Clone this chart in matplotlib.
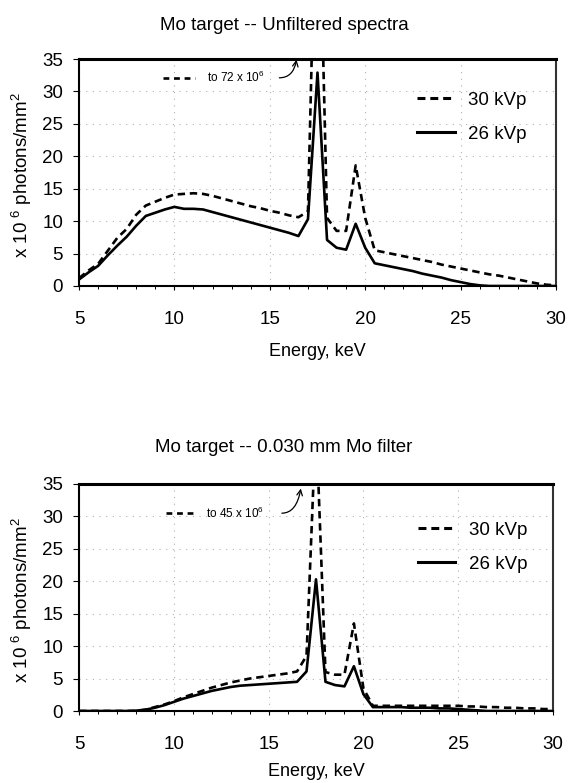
import matplotlib
matplotlib.use("Agg")
import matplotlib.pyplot as plt
from matplotlib.lines import Line2D
from matplotlib.ticker import MultipleLocator

plt.rcParams['font.family'] = ['Liberation Sans', 'DejaVu Sans']
plt.rcParams['mathtext.fontset'] = 'custom'
plt.rcParams['mathtext.rm'] = 'Liberation Sans'
plt.rcParams['mathtext.it'] = 'Liberation Sans'

energy = [5.0, 5.5, 6.0, 6.5, 7.0, 7.5, 8.0, 8.5, 9.0, 9.5,
          10.0, 10.5, 11.0, 11.5, 12.0, 12.5, 13.0, 13.5, 14.0, 14.5,
          15.0, 15.5, 16.0, 16.5, 17.0, 17.5, 18.0, 18.5, 19.0, 19.5,
          20.0, 20.5, 21.0, 21.5, 22.0, 22.5, 23.0, 23.5, 24.0, 24.5,
          25.0, 25.5, 26.0, 26.5, 27.0, 27.5, 28.0, 28.5, 29.0, 29.5, 30.0]

unf_30 = [1.2, 2.4, 3.4, 5.4, 7.4, 8.8, 11.0, 12.4, 13.0, 13.6,
          14.1, 14.2, 14.3, 14.2, 13.9, 13.5, 13.1, 12.7, 12.3, 12.0,
          11.6, 11.3, 10.9, 10.6, 11.5, 72.0, 10.5, 8.5, 8.5, 18.6,
          10.5, 5.5, 5.2, 4.9, 4.6, 4.3, 4.0, 3.7, 3.3, 3.0,
          2.7, 2.4, 2.1, 1.8, 1.6, 1.3, 1.0, 0.7, 0.4, 0.2, 0.1]

unf_26 = [1.0, 2.1, 3.1, 4.7, 6.2, 7.6, 9.3, 10.8, 11.3, 11.8,
          12.2, 11.9, 11.9, 11.8, 11.4, 11.0, 10.6, 10.2, 9.8, 9.4,
          9.0, 8.6, 8.2, 7.7, 10.3, 32.9, 7.1, 5.9, 5.6, 9.6,
          5.9, 3.5, 3.2, 2.9, 2.6, 2.3, 1.9, 1.6, 1.3, 0.9,
          0.6, 0.3, 0.1, 0.0, 0.0, 0.0, 0.0, 0.0, 0.0, 0.0, 0.0]

flt_30 = [0.0, 0.0, 0.0, 0.0, 0.0, 0.0, 0.0, 0.2, 0.6, 1.0,
          1.5, 2.1, 2.6, 3.1, 3.6, 4.0, 4.4, 4.7, 5.0, 5.2,
          5.4, 5.6, 5.8, 6.1, 8.5, 45.0, 6.0, 5.6, 5.6, 13.5,
          3.5, 0.8, 0.8, 0.8, 0.8, 0.8, 0.8, 0.8, 0.8, 0.8,
          0.8, 0.7, 0.7, 0.6, 0.6, 0.5, 0.5, 0.4, 0.4, 0.3, 0.3]

flt_26 = [0.0, 0.0, 0.0, 0.0, 0.0, 0.0, 0.05, 0.2, 0.5, 0.9,
          1.4, 1.9, 2.3, 2.7, 3.1, 3.4, 3.7, 3.9, 4.0, 4.1,
          4.2, 4.3, 4.4, 4.5, 6.1, 20.3, 4.5, 4.0, 3.8, 6.9,
          2.6, 0.6, 0.6, 0.6, 0.6, 0.5, 0.5, 0.5, 0.4, 0.4,
          0.3, 0.2, 0.1, 0.0, 0.0, 0.0, 0.0, 0.0, 0.0, 0.0, 0.0]

series_labels = ["30 kVp", "26 kVp"]
titles = ["Mo target -- Unfiltered spectra", "Mo target -- 0.030 mm Mo filter"]
peak_notes = ["72", "45"]
xlabel = "Energy, keV"
ylabel = r"x 10 $^{6}$ photons/mm$^2$"

W, H = 568, 783
fig = plt.figure(figsize=(W / 100, H / 100), dpi=100)

def fx(px):
    return px / W

def fy(py):
    return 1 - py / H

axes_px = [(79, 59, 556, 286), (79, 484, 553, 711)]
title_y = [25, 447]
xlabel_y = [352, 772]
ylabel_y = [175, 600]
legend_anchor = [(0.709, 0.855), (0.715, 0.835)]
note_cfg = [
    dict(dash=(9.4, 11.1), y=32.1, tx=11.7, arr_from=(15.5, 32.1), arr_to=(16.4, 34.9)),
    dict(dash=(9.6, 11.2), y=30.5, tx=11.7, arr_from=(15.7, 30.5), arr_to=(16.7, 34.3)),
]
data = [(unf_30, unf_26), (flt_30, flt_26)]

for i in range(2):
    l, t, r, b = axes_px[i]
    ax = fig.add_axes([fx(l), fy(b), fx(r) - fx(l), fy(t) - fy(b)])
    y30, y26 = data[i]
    ax.plot(energy, y30, color='black', lw=1.9, linestyle=(0, (2.8, 1.8)), label=series_labels[0])
    ax.plot(energy, y26, color='black', lw=1.9, linestyle='-', label=series_labels[1])
    ax.set_xlim(5, 30)
    ax.set_ylim(0, 35)
    ax.xaxis.set_major_locator(MultipleLocator(5))
    ax.xaxis.set_minor_locator(MultipleLocator(1))
    ax.yaxis.set_major_locator(MultipleLocator(5))
    ax.grid(True, which='major', color='#b0b0b0', linestyle=(0, (1, 5)), linewidth=0.8)
    ax.tick_params(axis='y', which='major', direction='out', length=4.5, width=0.8,
                   pad=7, labelsize=13.5)
    ax.tick_params(axis='x', which='major', direction='out', length=3, width=0.8,
                   pad=15, labelsize=13.5)
    ax.tick_params(axis='x', which='minor', direction='out', length=2.5, width=0.7)
    for s in ['left', 'bottom', 'right']:
        ax.spines[s].set_linewidth(1.5)
    ax.spines['top'].set_linewidth(2.2)
    ax.spines['right'].set_color('#333333')

    handles = [Line2D([], [], color='black', lw=2.2, linestyle=(0, (2.6, 1.6))),
               Line2D([], [], color='black', lw=2.2, linestyle='-')]
    ax.legend(handles, series_labels, loc='upper left', bbox_to_anchor=legend_anchor[i],
              frameon=False, fontsize=13.5, borderpad=0, borderaxespad=0,
              handlelength=2.0, handletextpad=0.7, labelspacing=0.9)

    nc = note_cfg[i]
    ax.plot(list(nc['dash']), [nc['y'], nc['y']], color='black', lw=1.9,
            linestyle=(0, (2.2, 1.8)), clip_on=False)
    ax.text(nc['tx'], nc['y'], r"to %s x 10$^6$" % peak_notes[i], fontsize=8.5,
            va='center', ha='left')
    ax.annotate('', xy=nc['arr_to'], xytext=nc['arr_from'],
                arrowprops=dict(arrowstyle='->', lw=0.9, color='black',
                                connectionstyle='angle3,angleA=0,angleB=80',
                                shrinkA=0, shrinkB=0))

    fig.text(0.5, fy(title_y[i]), titles[i], ha='center', va='center', fontsize=13.5)
    fig.text((fx(l) + fx(r)) / 2, fy(xlabel_y[i]), xlabel, ha='center', va='center', fontsize=13)
    fig.text(fx(22), fy(ylabel_y[i]), ylabel, ha='center', va='center', rotation=90, fontsize=13.5)

fig.savefig("out.png", dpi=100)
